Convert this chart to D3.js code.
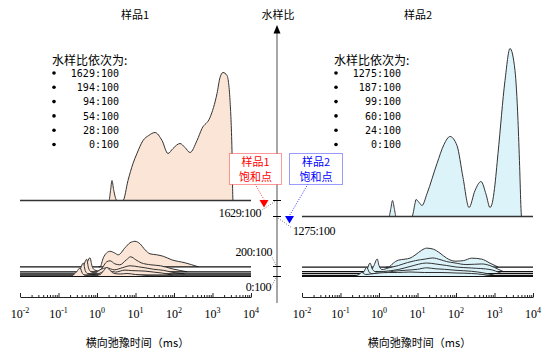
<!DOCTYPE html>
<html><head><meta charset="utf-8">
<script src="https://cdn.jsdelivr.net/npm/d3@7"></script>
<style>body{margin:0;background:#fff}svg{display:block}</style>
</head><body><svg id="c" width="554" height="357"></svg>
<script>
// ---------------- DATA ----------------
const panelTitles = ["样品1", "样品2"];
const axisTitle = "横向弛豫时间（ms）";
const vAxisTitle = "水样比";
const legendHeader = "水样比依次为:";
const tickExps = [-2, -1, 0, 1, 2, 3, 4];

const s1Water = [1629, 194, 94, 54, 28, 0];
const s1Labels = ["1629:100", "194:100", "94:100", "54:100", "28:100", "0:100"];
const s2Water = [1275, 187, 99, 60, 24, 0];
const s2Labels = ["1275:100", "187:100", "99:100", "60:100", "24:100", "0:100"];

const wTickValues = [1629, 1275, 200, 0];
const wTickLabels = ["1629:100", "1275:100", "200:100", "0:100"];
const satLabels = [["样品1", "饱和点"], ["样品2", "饱和点"]];

// T2 (ms), amplitude
const s1_1629 = [[1.6,0],[2.05,0],[2.25,10],[2.45,20],[2.7,11],[3.0,3],[3.3,0],[4.73,0],[6.38,20],[8.61,37],[10.9,47],[15.7,60],[22,65],[32.1,68],[48.8,60],[69.8,47],[94.2,52],[143,57],[193,53],[261,48],[396,60],[534,72],[861,83],[1310,107],[1567,123],[1875,128],[2382,125],[2851,100],[3208,50],[3405,0],[4000,0]];
const s1_194 = [[1.1,0],[1.2,0],[1.46,9],[1.79,14],[2.18,15.5],[2.81,14],[3.57,12],[5.34,19],[7.19,24],[9.7,25.5],[13.1,23],[17.7,17],[23.8,13],[35.6,12],[52.7,10.5],[87.1,7],[193,4],[428,0]];
const s1_94 = [[0.41,0],[0.5,5],[0.658,14],[0.74,6],[0.85,2],[1.05,1],[1.3,3],[1.79,10],[2.18,11],[2.9,8],[3.9,7],[5.8,12],[7.5,15],[10.2,12],[14,9],[25,7],[45,6],[90,3],[220,0]];
const s1_54 = [[0.34,0],[0.42,5],[0.54,14.5],[0.6,6],[0.7,2],[0.9,1],[1.2,4],[1.79,6],[2.8,4],[4.5,6],[7.19,8],[12,7],[17.7,6],[30,4.5],[52.7,3.5],[90,1.5],[190,0]];
const s1_28 = [[0.28,0],[0.35,4],[0.441,12],[0.5,4],[0.6,1],[0.9,0.5],[1.2,2],[1.6,4],[2.2,4],[3,3],[5.34,5],[8,4.5],[17.7,4],[30,3],[50,2],[90,0]];
const s1_0 = [[0.2,0],[0.25,2],[0.3,5],[0.361,8.5],[0.42,3],[0.5,1],[0.8,0.5],[1.2,2],[1.5,6],[1.79,9],[2.2,6],[2.8,3],[4,2.5],[6,3],[10,2],[20,1],[30,0]];

const s2_1275 = [[1.5,0],[1.82,0],[2.03,8],[2.24,16],[2.5,8],[2.77,0],[7.19,0],[8.61,13],[9.14,17],[11,14],[13.1,11],[17.7,23],[32.1,53],[48.8,72],[69.8,80],[106,71],[152,39],[218,9],[312,26],[446,35],[605,22],[764,9],[880,14],[1000,28],[1233,63],[1875,136],[2529,168],[3405,146],[4074,96],[4500,50],[4875,8],[5000,0]];
const s2_187 = [[1.5,0],[1.75,0],[2.35,4],[3.17,7],[4.73,8],[6.38,9],[8.61,12],[12.9,17],[17.3,19],[25.7,18],[38.4,14],[57.3,9],[94.2,6],[155,6.5],[256,9],[466,8],[764,4],[1256,0]];
const s2_99 = [[0.6,0],[0.72,5],[0.9,12.5],[1.0,6],[1.2,2],[1.75,3.6],[3.17,6],[5.5,9],[9,11],[16,12.5],[25,13.6],[38.4,12],[57,10],[94,8.6],[180,7],[300,7.3],[466,7.6],[764,6],[1300,2],[1700,0]];
const s2_60 = [[0.42,0],[0.5,5],[0.583,10.5],[0.68,4],[0.85,1.5],[1.3,2],[3.17,4],[6.38,7],[17.3,10.5],[30,9.5],[57.3,8],[100,6.5],[256,5.5],[764,4],[1500,0]];
const s2_24 = [[0.34,0],[0.41,4],[0.48,8],[0.56,3],[0.7,1.5],[1.2,2],[2.35,4],[4.73,5],[10,6],[17.3,7.5],[30,6.5],[50,6],[100,5],[256,4],[500,2.5],[1000,0]];
const s2_0 = [[0.238,0],[0.3,2],[0.361,4],[0.45,2],[0.6,2.5],[1.0,3.5],[1.75,4],[3,4],[6.38,4.5],[15,4],[38.4,4],[100,3.5],[256,3],[500,2],[900,0]];

const s1Series = [s1_1629, s1_194, s1_94, s1_54, s1_28, s1_0];
const s2Series = [s2_1275, s2_187, s2_99, s2_60, s2_24, s2_0];

// ---------------- LAYOUT ----------------
const svg = d3.select("#c");
const CJK = "'Noto Sans CJK SC', sans-serif";
const SERIF = "'Liberation Serif', serif";
const MONO = "'DejaVu Sans Mono', monospace";
const AXIS_Y = 297;
const AX_X = 277;

const xL = d3.scaleLog().domain([0.01, 1e4]).range([20, 251]);
const xR = d3.scaleLog().domain([0.01, 1e4]).range([302, 533]);
const wy = d3.scaleLinear().domain([0, 200, 1275, 1629]).range([276.5, 266.5, 216.5, 200.5]);
const amp = d3.scaleLinear().domain([0, 100]).range([0, 100]);

function drawPanel(x, series, water, labels, fill, opt) {
  const g = svg.append("g");
  series.forEach((pts, i) => {
    const base = wy(water[i]);
    const area = d3.area().x(d => x(d[0])).y0(base).y1(d => base - amp(d[1])).curve(d3.curveMonotoneX);
    const line = d3.line().x(d => x(d[0])).y(d => base - amp(d[1])).curve(d3.curveMonotoneX);
    g.append("path").attr("d", area(pts)).attr("fill", fill).attr("stroke", "none");
    g.append("path").attr("d", line(pts)).attr("fill", "none").attr("stroke", "#333").attr("stroke-width", 1);
    g.append("line").attr("x1", x(0.01)).attr("x2", x(1e4)).attr("y1", base).attr("y2", base)
      .attr("stroke", i === 0 ? "#333" : "#111").attr("stroke-width", i === 0 ? 1.6 : 1.2);
  });

  // x axis
  const ag = svg.append("g").attr("transform", `translate(0,${AXIS_Y})`);
  const majors = tickExps.map(e => Math.pow(10, e));
  ag.call(d3.axisBottom(x).tickValues(majors).tickSize(-4).tickSizeOuter(0).tickFormat(""));
  const minors = [];
  for (let e = -2; e < 4; e++) for (let m = 2; m <= 9; m++) minors.push(m * Math.pow(10, e));
  const mg = svg.append("g").attr("transform", `translate(0,${AXIS_Y})`);
  mg.call(d3.axisBottom(x).tickValues(minors).tickSize(-2).tickSizeOuter(0).tickFormat(""));
  mg.select(".domain").remove();
  svg.selectAll(".tick line").attr("stroke", "#222");
  ag.select(".domain").attr("stroke", "#222");

  const lab = svg.append("g").selectAll("text").data(tickExps).join("text")
    .attr("x", e => x(Math.pow(10, e))).attr("y", AXIS_Y + 21)
    .attr("text-anchor", "middle").attr("font-family", SERIF).attr("font-size", 12).attr("fill", "#000");
  lab.append("tspan").text("10");
  lab.append("tspan").attr("dy", -5).attr("font-size", 8).text(e => String(e));

  const cx = (x(0.01) + x(1e4)) / 2;
  svg.append("text").attr("x", cx + 2).attr("y", 347).attr("text-anchor", "middle")
    .attr("font-family", CJK).attr("font-size", 11).text(axisTitle);
  svg.append("text").attr("x", opt.titleX).attr("y", 19).attr("text-anchor", "middle")
    .attr("font-family", CJK).attr("font-size", 11).text(opt.title);

  // legend
  const lx = opt.legendX;
  svg.append("text").attr("x", lx).attr("y", 64.5).attr("font-family", CJK).attr("font-size", 12).text(legendHeader);
  labels.forEach((t, i) => {
    const yc = 73 + i * 14.3;
    svg.append("circle").attr("cx", lx + 2).attr("cy", yc).attr("r", 1.8).attr("fill", "#000");
    svg.append("text").attr("x", lx + 67).attr("y", yc + 3.6).attr("text-anchor", "end")
      .attr("font-family", MONO).attr("font-size", 10).text(t);
  });
}

drawPanel(xL, s1Series, s1Water, s1Labels, "#fbe5d6", {title: panelTitles[0], titleX: 135, legendX: 52});
drawPanel(xR, s2Series, s2Water, s2Labels, "#dcf3fa", {title: panelTitles[1], titleX: 418, legendX: 334});

// vertical water-ratio axis
svg.append("line").attr("x1", AX_X).attr("x2", AX_X).attr("y1", 30).attr("y2", 303)
  .attr("stroke", "#8a8a8a").attr("stroke-width", 1.5);
svg.append("path").attr("d", `M${AX_X},25L${AX_X - 3.5},33.5L${AX_X + 3.5},33.5Z`).attr("fill", "#000");
svg.append("text").attr("x", AX_X + 1).attr("y", 19).attr("text-anchor", "middle")
  .attr("font-family", CJK).attr("font-size", 11).text(vAxisTitle);

const wOff = [
  {lx: 261, dy: 16.5, anchor: "end", l: [[275, 201.5], [262, 210]]},
  {lx: 293, dy: 18.5, anchor: "start", l: [[278, 218], [292, 228]]},
  {lx: 272, dy: -10.5, anchor: "end", l: [[276, 265], [272, 257]]},
  {lx: 271, dy: 14.5, anchor: "end", l: [[276, 278], [270, 289]]}
];
wTickValues.forEach((v, i) => {
  const y = wy(v), o = wOff[i];
  svg.append("line").attr("x1", AX_X - 4).attr("x2", AX_X + 4).attr("y1", y).attr("y2", y)
    .attr("stroke", "#000").attr("stroke-width", 1);
  svg.append("line").attr("x1", o.l[0][0]).attr("y1", o.l[0][1]).attr("x2", o.l[1][0]).attr("y2", o.l[1][1])
    .attr("stroke", "#555").attr("stroke-width", 0.8).attr("stroke-dasharray", "1,1.5");
  svg.append("text").attr("x", o.lx).attr("y", y + o.dy).attr("text-anchor", o.anchor)
    .attr("font-family", SERIF).attr("font-size", 12).attr("letter-spacing", -0.4).text(wTickLabels[i]);
});

// saturation annotations
const sat = [
  {box: [229, 153, 52, 31], col: "#ff0000", tx: 264, ty: wy(s1Water[0]), from: [255, 184]},
  {box: [289, 153, 53, 31], col: "#0000ff", tx: 289.5, ty: wy(s2Water[0]), from: [308, 184]}
];
sat.forEach((s, i) => {
  const [bx, by, bw, bh] = s.box;
  svg.append("line").attr("x1", s.from[0]).attr("y1", s.from[1]).attr("x2", s.tx).attr("y2", s.ty - 1)
    .attr("stroke", s.col).attr("stroke-width", 0.8).attr("stroke-dasharray", "1,1.5");
  svg.append("rect").attr("x", bx + 0.5).attr("y", by + 0.5).attr("width", bw).attr("height", bh)
    .attr("fill", "#fff").attr("stroke", s.col).attr("stroke-width", 0.8).attr("stroke-dasharray", "1,1");
  satLabels[i].forEach((t, j) => {
    svg.append("text").attr("x", bx + bw / 2 + 0.5).attr("y", by + 12.5 + j * 15.5).attr("text-anchor", "middle")
      .attr("font-family", CJK).attr("font-size", 11).attr("fill", s.col).text(t);
  });
  svg.append("path").attr("d", `M${s.tx - 4.5},${s.ty - 0.5}L${s.tx + 4.5},${s.ty - 0.5}L${s.tx},${s.ty + 7}Z`)
    .attr("fill", s.col);
});
</script></body></html>
